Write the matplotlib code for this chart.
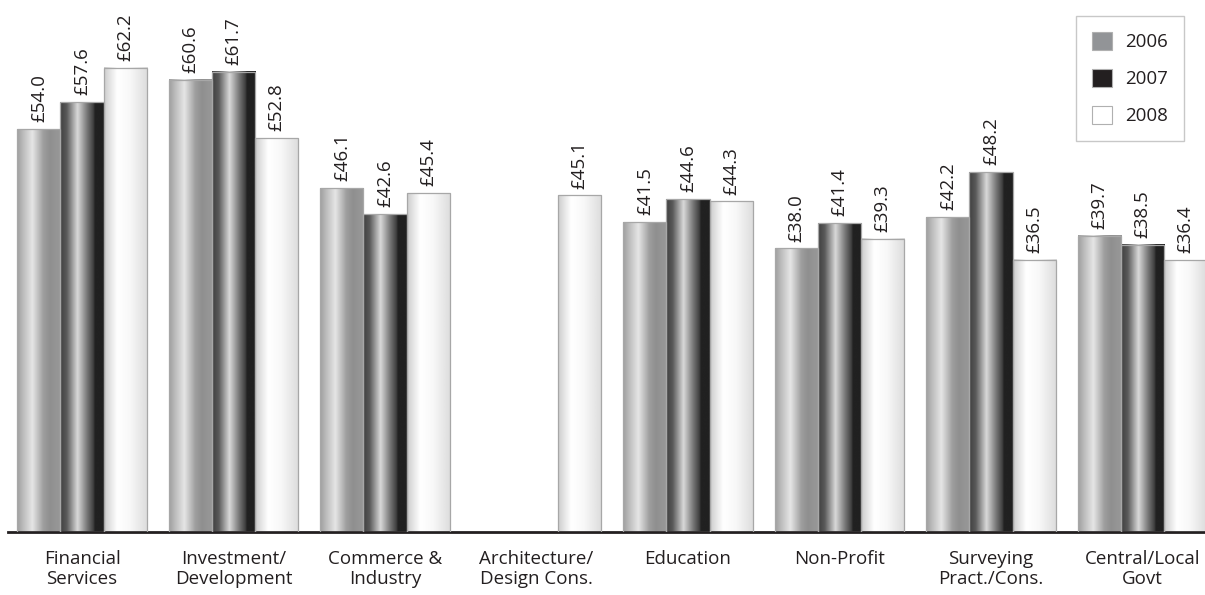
import numpy as np
import matplotlib.pyplot as plt
from matplotlib.patches import Patch, Rectangle

plt.rcParams['font.family'] = ['Open Sans', 'DejaVu Sans']

# salary data (GBP thousands)
categories = [
    "Financial\nServices", "Investment/\nDevelopment", "Commerce &\nIndustry",
    "Architecture/\nDesign Cons.", "Education", "Non-Profit",
    "Surveying\nPract./Cons.", "Central/Local\nGovt",
]
years = ["2006", "2007", "2008"]
vals_2006 = [54.0, 60.6, 46.1, None, 41.5, 38.0, 42.2, 39.7]
vals_2007 = [57.6, 61.7, 42.6, None, 44.6, 41.4, 48.2, 38.5]
vals_2008 = [62.2, 52.8, 45.4, 45.1, 44.3, 39.3, 36.5, 36.4]

TEXT = '#231f20'

# cylinder-style shading profiles: (fraction across bar, grey level)
shades = {
    "2006": [(0, .62), (0.12, .72), (0.35, .90), (0.6, .62), (0.75, .56), (1, .60)],
    "2007": [(0, .25), (0.15, .35), (0.4, .85), (0.6, .50), (0.76, .25), (0.8, .13), (1, .13)],
    "2008": [(0, .80), (0.3, 1.0), (0.6, .97), (1, .86)],
}
legend_colors = {"2006": '#929497', "2007": TEXT, "2008": 'white'}


def gradient(stops, n=200):
    xs, ys = zip(*stops)
    return np.interp(np.linspace(0, 1, n), xs, ys)


def draw_bar(ax, x0, width, height, stops):
    ax.imshow(gradient(stops)[np.newaxis, :], extent=(x0, x0 + width, 0, height),
              aspect='auto', cmap='gray', vmin=0, vmax=1,
              interpolation='bilinear', zorder=2)
    ax.add_patch(Rectangle((x0, 0), width, height, fill=False,
                           edgecolor='#a7a7a7', linewidth=0.9, zorder=3))


W, H = 1205, 595
fig = plt.figure(figsize=(W / 100, H / 100), dpi=100)
ax = fig.add_axes([8 / W, 63 / H, 1 - 8 / W, 532 / H])

bar_w = 0.284
x = np.arange(len(categories))
series = [vals_2006, vals_2007, vals_2008]
for k, (year, vals) in enumerate(zip(years, series)):
    for i, v in enumerate(vals):
        if v is None:
            continue
        x0 = x[i] + (k - 1.5) * bar_w
        draw_bar(ax, x0, bar_w, v, shades[year])
        ax.annotate(f"£{v:.1f}", (x0 + bar_w / 2, v), xytext=(0, 5),
                    textcoords='offset points', rotation=90,
                    ha='center', va='bottom', fontsize=13.5, color=TEXT)

ax.set_xlim(-74 / 151.5, (W - 82) / 151.5)
ax.set_ylim(0, 71.3)

for side in ['left', 'right', 'top']:
    ax.spines[side].set_visible(False)
ax.spines['bottom'].set_linewidth(2)
ax.spines['bottom'].set_color(TEXT)
ax.set_yticks([])
ax.set_xticks(x)
ax.set_xticklabels(categories, fontsize=13.5, color=TEXT, linespacing=1.15)
ax.tick_params(axis='x', length=0, pad=13)

handles = [Patch(facecolor=legend_colors[y], edgecolor='#b0b0b0', linewidth=0.8)
           for y in years]
leg = fig.legend(handles, years, loc='upper left',
                 bbox_to_anchor=(1076 / W, 1 - 16 / H), bbox_transform=fig.transFigure,
                 borderaxespad=0, fancybox=False, frameon=True, edgecolor='#bbbbbb',
                 fontsize=13.5, handlelength=1.07, handleheight=1.07,
                 labelspacing=0.95, borderpad=0.85, handletextpad=0.7)
leg.get_frame().set_linewidth(1)
for t in leg.get_texts():
    t.set_color(TEXT)

fig.savefig("out.png", dpi=100)
